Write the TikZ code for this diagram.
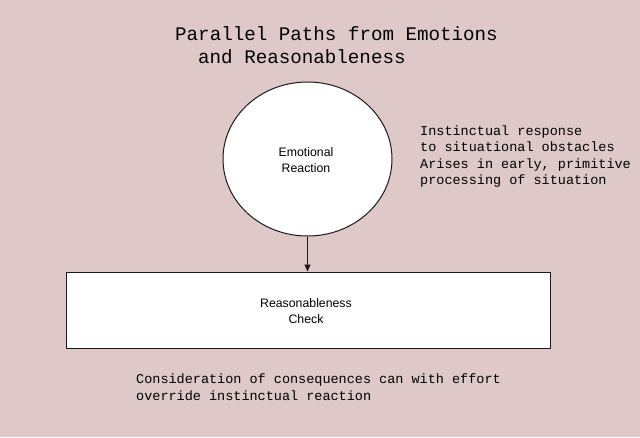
\documentclass[tikz,border=0pt]{standalone}
\usepackage{fontspec}
\setmainfont{Liberation Sans}
\newfontfamily\monofnt{Liberation Mono}
\usetikzlibrary{arrows.meta,shapes.geometric}
\definecolor{bgpink}{HTML}{DEC8C8}
\definecolor{edgegray}{HTML}{1A1A1A}
\begin{document}
\begin{tikzpicture}[x=1pt,y=-1pt,
  mtext/.style={inner sep=0pt,anchor=base west,font=\monofnt\fontsize{13.5}{16.5}\selectfont},
  ttext/.style={inner sep=0pt,anchor=base west,font=\monofnt\fontsize{19.2}{23}\selectfont},
  lbl/.style={align=center,font=\fontsize{12.3}{16.5}\selectfont,inner sep=0pt},
  shapebox/.style={draw=edgegray,fill=white,line width=1pt}]
\fill[bgpink] (0,0) rectangle (640,437);
\useasboundingbox (0,0) rectangle (640,437);
% title
\node[ttext] (t1) at (175,40) {Parallel Paths from Emotions};
\node[ttext] (t2) at (198,63) {and Reasonableness};
% ellipse
\node[shapebox,ellipse,minimum width=169pt,minimum height=154pt,inner sep=0pt] (emo) at (307.5,159) {};
\node[lbl] (emol) at (306,160) {Emotional\\Reaction};
% rectangle
\node[shapebox,rectangle,minimum width=484pt,minimum height=76pt,inner sep=0pt] (chk) at (308.5,310) {};
\node[lbl] (chkl) at (306,311) {Reasonableness\\Check};
% arrow
\draw[-{Triangle[length=7pt,width=6pt]},line width=1pt,edgegray] (emo.south) -- (emo.south |- chk.north);
% side notes
\node[mtext] (s1) at (420,135) {Instinctual response};
\node[mtext] (s2) at (420,151.5) {to situational obstacles};
\node[mtext] (s3) at (420,168) {Arises in early, primitive};
\node[mtext] (s4) at (420,184.5) {processing of situation};
% bottom note
\node[mtext] (b1) at (136,383) {Consideration of consequences can with effort};
\node[mtext] (b2) at (136,400) {override instinctual reaction};
\end{tikzpicture}
\end{document}
